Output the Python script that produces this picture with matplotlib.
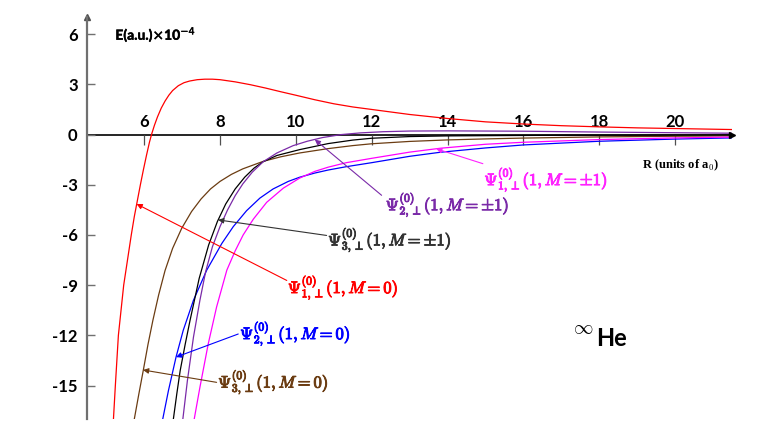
import sys
import numpy as np
import matplotlib.pyplot as plt
import matplotlib.patheffects as pe

# energy curves, E in units of 1e-4 a.u., R in units of a0
r_psi1_m0 = [5.19, 5.24, 5.32, 5.39, 5.46, 5.56, 5.66, 5.74, 5.82, 5.9, 5.98, 6.06, 6.14, 6.2,
             6.27, 6.35, 6.45, 6.55, 6.65, 6.75, 6.9, 7.05, 7.2, 7.4, 7.6, 7.8, 8.0, 8.4, 8.8,
             9.2, 9.6, 10.0, 10.5, 11.0, 11.5, 12.0, 13.0, 14.0, 15.0, 16.0, 17.0, 18.0, 19.0,
             20.0, 21.5]
e_psi1_m0 = [-17, -15, -12, -10.5, -9, -7.5, -6, -4.9, -3.95, -3.0, -2.1, -1.25, -0.45, 0.05,
             0.55, 1.05, 1.58, 2.0, 2.35, 2.63, 2.92, 3.1, 3.2, 3.28, 3.31, 3.31, 3.28, 3.15, 2.98,
             2.78, 2.56, 2.35, 2.08, 1.84, 1.65, 1.5, 1.2, 0.96, 0.76, 0.63, 0.53, 0.46, 0.4,
             0.36, 0.3]

r_psi2_m0 = [6.49, 6.64, 6.84, 7.03, 7.3, 7.65, 8.05, 8.35, 8.7, 9.05, 9.4, 9.8, 10.1, 10.5,
             10.85, 11.33, 12.0, 13.0, 13.8, 15.0, 16.0, 18.0, 20.0, 21.5]
e_psi2_m0 = [-17, -15.3, -13.3, -11.7, -9.9, -8.1, -6.5, -5.5, -4.55, -3.8, -3.25, -2.8, -2.55,
             -2.3, -2.12, -1.92, -1.68, -1.3, -1.06, -0.8, -0.62, -0.4, -0.27, -0.2]

r_psi3_m0 = [5.74, 5.86, 5.98, 6.1, 6.23, 6.38, 6.55, 6.75, 6.99, 7.25, 7.5, 7.75, 8.0, 8.3,
             8.6, 9.14, 9.6, 10.1, 10.85, 11.5, 12.0, 13.0, 14.0, 15.0, 16.0, 18.0, 20.0, 21.5]
e_psi3_m0 = [-17, -15.5, -14.05, -12.55, -11.1, -9.6, -8.13, -6.8, -5.6, -4.6, -3.85, -3.25,
             -2.8, -2.38, -2.05, -1.6, -1.33, -1.1, -0.84, -0.66, -0.55, -0.41, -0.32, -0.26,
             -0.21, -0.14, -0.1, -0.08]

r_psi1_m1 = [7.32, 7.47, 7.69, 7.91, 8.18, 8.4, 8.61, 8.88, 9.23, 9.67, 10.1, 10.5, 10.85, 11.33,
             12.0, 13.0, 13.8, 15.0, 16.0, 18.0, 20.0, 21.5]
e_psi1_m1 = [-17, -15.1, -12.5, -10.3, -8.1, -6.95, -6.0, -5.05, -4.05, -3.2, -2.6, -2.2, -1.95,
             -1.68, -1.42, -1.05, -0.82, -0.58, -0.46, -0.3, -0.2, -0.15]

r_psi2_m1 = [7.02, 7.14, 7.3, 7.47, 7.62, 7.8, 8.0, 8.2, 8.4, 8.6, 8.85, 9.14, 9.5, 9.93, 10.3,
             10.7, 11.2, 11.7, 12.3, 13.0, 14.0, 16.0, 18.0, 21.5]
e_psi2_m1 = [-17, -14.7, -12.1, -9.9, -8.2, -6.7, -5.5, -4.5, -3.65, -2.95, -2.25, -1.62, -1.1,
             -0.66, -0.4, -0.18, 0.0, 0.1, 0.17, 0.21, 0.22, 0.2, 0.15, 0.08]

r_psi3_m1 = [6.77, 6.86, 6.95, 7.08, 7.21, 7.45, 7.7, 7.93, 8.15, 8.4, 8.65, 8.9, 9.14, 9.5,
             10.1, 10.85, 11.5, 12.0, 13.0, 14.0, 17.0, 21.5]
e_psi3_m1 = [-17, -15.5, -14.1, -12.55, -11.1, -8.6, -6.6, -5.2, -4.15, -3.25, -2.55, -2.0,
             -1.62, -1.25, -0.9, -0.54, -0.33, -0.22, -0.12, -0.08, -0.04, -0.02]

x_ticks = [6, 8, 10, 12, 14, 16, 18, 20]
y_ticks = [6, 3, 0, -3, -6, -9, -12, -15]

# label text, colour, text anchor, arrow tail, arrow tip
labels = [
    (r'$\Psi^{(0)}_{1,\perp}(1,M=0)$', '#ff0000', (9.79, -9.1), (9.76, -8.72), (5.8, -4.15)),
    (r'$\Psi^{(0)}_{2,\perp}(1,M=0)$', '#0000ff', (8.53, -11.85), (8.48, -11.92), (6.84, -13.3)),
    (r'$\Psi^{(0)}_{3,\perp}(1,M=0)$', '#6b3c12', (7.95, -14.75), (7.91, -14.81), (5.97, -14.07)),
    (r'$\Psi^{(0)}_{3,\perp}(1,M=\pm1)$', '#333333', (10.85, -6.25), (10.81, -6.03), (7.95, -5.1)),
    (r'$\Psi^{(0)}_{2,\perp}(1,M=\pm1)$', '#7a2aa8', (12.37, -4.15), (12.26, -3.63), (10.5, -0.3)),
    (r'$\Psi^{(0)}_{1,\perp}(1,M=\pm1)$', '#ff22ff', (14.97, -2.65), (14.93, -1.74), (13.7, -0.85)),
]


def main():
    plt.rcParams['mathtext.fontset'] = 'cm'
    fig = plt.figure(figsize=(7.63, 4.36), dpi=100)
    ax = fig.add_axes([0.1144, 0.039, 0.845, 0.921])

    ax.plot(r_psi1_m0, e_psi1_m0, color='#ff0000', lw=0.9)
    ax.plot(r_psi3_m0, e_psi3_m0, color='#6b3c12', lw=0.9)
    ax.plot(r_psi2_m0, e_psi2_m0, color='#0000ff', lw=0.9)
    ax.plot(r_psi1_m1, e_psi1_m1, color='#ff00ff', lw=0.9)
    ax.plot(r_psi3_m1, e_psi3_m1, color='black', lw=0.9)
    ax.plot(r_psi2_m1, e_psi2_m1, color='#7a2aa8', lw=0.9)

    ax.set_xlim(4.5, 21.5)
    ax.set_ylim(-17, 7)

    for s in ['top', 'right']:
        ax.spines[s].set_visible(False)
    ax.spines['left'].set_color('#707070')
    ax.spines['left'].set_linewidth(1.6)
    ax.spines['bottom'].set_position(('data', 0))
    ax.spines['bottom'].set_color('black')
    ax.spines['bottom'].set_linewidth(1.2)
    ax.spines['bottom'].set_zorder(1)

    # axis arrowheads
    ax.plot([0], [1], marker='^', color='#505050', ms=4, transform=ax.transAxes, clip_on=False)
    ax.plot([21.5], [0], marker='>', color='black', ms=4, clip_on=False)

    ax.set_xticks(x_ticks)
    ax.set_xticklabels([str(t) for t in x_ticks])
    ax.tick_params(axis='x', direction='out', length=7, width=0.9, color='#505050',
                   pad=-22, labelsize=12)
    ax.set_yticks(y_ticks)
    ax.set_yticklabels([str(t) for t in y_ticks])
    ax.tick_params(axis='y', direction='in', length=6, width=1.0, color='#707070',
                   pad=7, labelsize=12)
    for lab in ax.get_xticklabels() + ax.get_yticklabels():
        lab.set_fontweight('bold')
        lab.set_family('Lato')

    for text, col, pos, tail, tip in labels:
        ax.annotate('', xy=tip, xytext=tail,
                    arrowprops=dict(arrowstyle='-|>', color=col, lw=0.8,
                                    mutation_scale=8, shrinkA=0, shrinkB=0))
        ax.text(pos[0], pos[1], text, color=col, fontsize=12, ha='left', va='center',
                path_effects=[pe.withStroke(linewidth=0.7, foreground=col)])

    ax.text(5.24, 5.95, r'E(a.u.)$\times$10$^{-4}$', fontsize=10, fontweight='bold',
            family='Lato', math_fontfamily='dejavusans', ha='left', va='center',
            path_effects=[pe.withStroke(linewidth=0.3, foreground='black')])
    ax.text(19.13, -1.84, r'R (units of a$_\mathbf{0}$)', fontsize=9, fontweight='bold',
            family='Liberation Serif', ha='left', va='center')
    ax.text(17.3, -11.6, r'$\infty$', fontsize=14, ha='left', va='center')
    ax.text(17.92, -12.2, 'He', fontsize=17, fontweight='bold', family='Lato',
            ha='left', va='center')

    fig.savefig('out.png', dpi=100)
    return 0


if __name__ == "__main__":
    sys.exit(main())
